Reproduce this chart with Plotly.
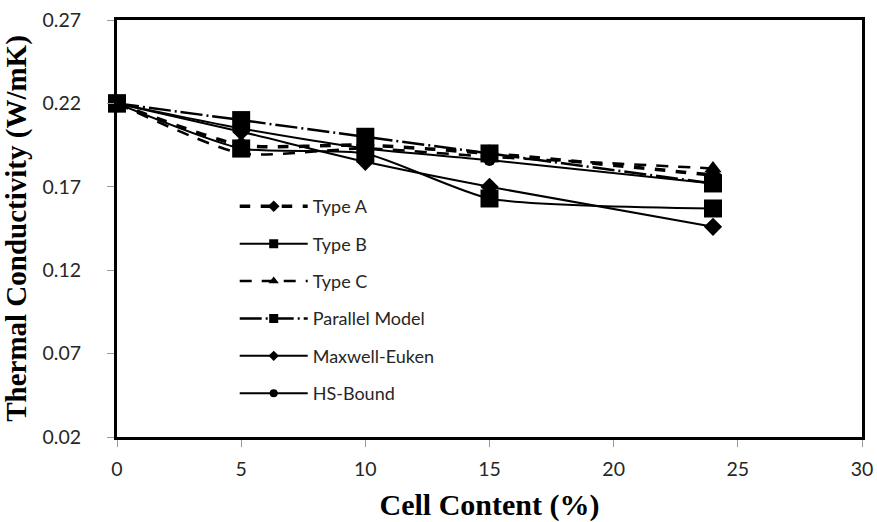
import plotly.graph_objects as go

x_vals = [0, 5, 10, 15, 24]
type_a = [0.220, 0.195, 0.195, 0.190, 0.177]
type_b = [0.220, 0.193, 0.190, 0.163, 0.157]
type_c = [0.220, 0.190, 0.193, 0.188, 0.181]
parallel = [0.220, 0.210, 0.200, 0.190, 0.172]
maxwell = [0.220, 0.203, 0.185, 0.170, 0.146]
hs_bound = [0.220, 0.205, 0.193, 0.186, 0.172]

x_ticks = [0, 5, 10, 15, 20, 25, 30]
y_ticks = [0.02, 0.07, 0.12, 0.17, 0.22, 0.27]

# name, values, symbol, plot marker size, legend marker size, dash, width
series = [
    ("Type A", type_a, "diamond", 14, 9, "dash", 3.5),
    ("Type B", type_b, "square", 18, 9, "solid", 2),
    ("Type C", type_c, "triangle-up", 15, 9, "12px,10px", 2.5),
    ("Parallel Model", parallel, "square", 18, 9, "22px,4px,2px,4px", 2.5),
    ("Maxwell-Euken", maxwell, "diamond", 14, 8, "solid", 2),
    ("HS-Bound", hs_bound, "circle", 12, 8, "solid", 2),
]

fig = go.Figure()
for i, (name, yv, sym, size, lsize, dash, w) in enumerate(series):
    fig.add_trace(go.Scatter(
        x=x_vals, y=yv, name=name, mode="lines+markers",
        line=dict(color="black", width=w, dash=dash, shape="spline", smoothing=0.6),
        marker=dict(symbol=sym, size=size, color="black"),
        cliponaxis=False, showlegend=False,
    ))
# legend entries (smaller markers as in the reference legend)
for i, (name, yv, sym, size, lsize, dash, w) in enumerate(series):
    fig.add_trace(go.Scatter(
        x=[None], y=[None], name=name, mode="lines+markers",
        line=dict(color="black", width=w, dash=dash),
        marker=dict(symbol=sym, size=lsize, color="black"),
        legendgroup=f"g{i}", showlegend=True,
    ))

axis_common = dict(
    showline=True, linecolor="black", linewidth=3, mirror=True,
    showgrid=False, zeroline=False, ticks="outside", tickcolor="#999999",
    ticklen=7, automargin=False, ticklabeloverflow="allow",
    tickfont=dict(family="Lato, Noto Sans, sans-serif", size=19.5, color="#262626"),
)

fig.update_layout(
    width=877, height=522,
    margin=dict(l=117, r=15, t=20, b=85),
    paper_bgcolor="white", plot_bgcolor="white",
    showlegend=True,
    legend=dict(
        x=0.158, y=0.597, xanchor="left", yanchor="top",
        bgcolor="rgba(0,0,0,0)",
        font=dict(family="Lato, Noto Sans, sans-serif", size=18, color="#262626"),
        itemwidth=68, tracegroupgap=11, traceorder="grouped",
    ),
    xaxis=dict(
        range=[0, 30], tickvals=x_ticks, ticktext=[str(t) for t in x_ticks],
        title=dict(text="<b>Cell Content (%)</b>",
                   font=dict(family="Liberation Serif, Times New Roman, serif", size=30, color="black"),
                   standoff=15),
        ticklabelstandoff=6,
        **axis_common,
    ),
    yaxis=dict(
        range=[0.02, 0.27], tickvals=y_ticks, ticktext=[f"{t:.2f}" for t in y_ticks],
        title=dict(text="<b>Thermal Conductivity (W/mK)</b>",
                   font=dict(family="Liberation Serif, Times New Roman, serif", size=29, color="black"),
                   standoff=8),
        ticklabelstandoff=22,
        **axis_common,
    ),
)

fig.write_html("out.html")
